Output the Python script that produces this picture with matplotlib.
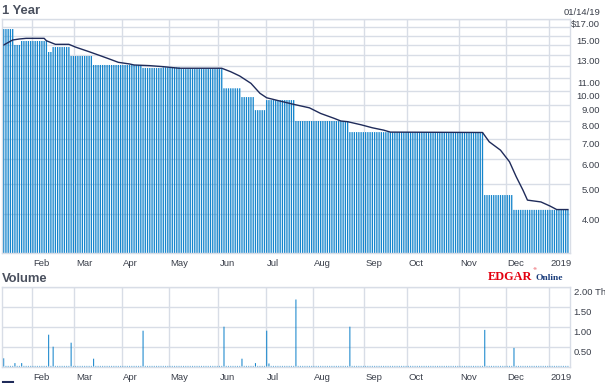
import matplotlib
matplotlib.use("Agg")
import matplotlib.pyplot as plt
import matplotlib.transforms as mtransforms
from matplotlib.lines import Line2D
from matplotlib.ticker import NullLocator, NullFormatter
import numpy as np
import pandas as pd

# trading calendar (NYSE closures in the window)
holidays = ["2018-01-15", "2018-02-19", "2018-03-30", "2018-05-28", "2018-07-04",
            "2018-09-03", "2018-11-22", "2018-12-05", "2018-12-25", "2019-01-01"]

# daily close, as runs: the close holds from each start date to the next one
price_run_start = ["2018-01-12", "2018-01-22", "2018-01-25", "2018-02-12", "2018-02-14",
                   "2018-02-27", "2018-03-13", "2018-04-13", "2018-04-26", "2018-05-08",
                   "2018-06-05", "2018-06-15", "2018-06-25", "2018-07-02", "2018-07-20",
                   "2018-08-23", "2018-11-16", "2018-12-07"]
price_run_value = [15.78, 14.02, 14.44, 13.31, 13.81,
                   12.92, 12.09, 11.82, 11.88, 11.73,
                   10.17, 9.53, 8.65, 9.32, 7.98,
                   7.35, 4.61, 4.13]

# moving average line
ma_dates = ["2018-01-12", "2018-01-19", "2018-01-24", "2018-01-29", "2018-02-08",
            "2018-02-09", "2018-02-15", "2018-02-26", "2018-03-01", "2018-03-09",
            "2018-03-16", "2018-03-22", "2018-03-28", "2018-04-05", "2018-04-09",
            "2018-04-18", "2018-04-26", "2018-05-07", "2018-06-04", "2018-06-08",
            "2018-06-14", "2018-06-21", "2018-06-27", "2018-07-02", "2018-07-11",
            "2018-07-19", "2018-07-30", "2018-08-06", "2018-08-14", "2018-08-17",
            "2018-08-22", "2018-08-30", "2018-09-07", "2018-09-14", "2018-09-19",
            "2018-11-15", "2018-11-20", "2018-11-28", "2018-12-04", "2018-12-10",
            "2018-12-13", "2018-12-17", "2018-12-26", "2019-01-02", "2019-01-07",
            "2019-01-14"]
ma_values = [14.02, 14.55, 14.66, 14.73, 14.73,
             14.47, 14.09, 14.09, 13.80, 13.34,
             12.95, 12.64, 12.33, 12.18, 12.09,
             12.03, 11.94, 11.80, 11.80, 11.50,
             11.14, 10.55, 9.80, 9.48, 9.25,
             9.03, 8.80, 8.44, 8.14, 7.98,
             7.94, 7.76, 7.59, 7.46, 7.35,
             7.33, 6.84, 6.43, 5.90, 5.28,
             4.78, 4.44, 4.38, 4.25, 4.14,
             4.14]

# volume (thousands of shares); every other day trades a tiny amount
vol_base = 0.02
vol_dates = ["2018-01-12", "2018-01-22", "2018-01-25", "2018-02-12", "2018-02-14",
             "2018-02-27", "2018-03-13", "2018-04-13", "2018-06-05", "2018-06-15",
             "2018-06-25", "2018-07-02", "2018-07-03", "2018-07-20", "2018-08-23",
             "2018-11-16", "2018-12-07"]
vol_values = [0.21, 0.09, 0.09, 0.80, 0.50,
              0.60, 0.20, 0.90, 1.00, 0.20,
              0.09, 0.90, 0.08, 1.68, 1.00,
              0.92, 0.47]

price_ticks = [4, 5, 6, 7, 8, 9, 10, 11, 12, 13, 14, 15, 16, 17]
price_tick_labels = ["4.00", "5.00", "6.00", "7.00", "8.00", "9.00", "10.00", "11.00",
                     "", "13.00", "", "15.00", "", "$17.00"]
vol_ticks = [0.5, 1.0, 1.5, 2.0]
vol_tick_labels = ["0.50", "1.00", "1.50", "2.00 Th"]
month_labels = ["Feb", "Mar", "Apr", "May", "Jun", "Jul", "Aug", "Sep", "Oct", "Nov", "Dec", "2019"]

BAR = "#1585cc"
LINE = "#1f2b5a"
GRID = "#d8dde6"
TXT = "#3a3f4a"
FONT = "Liberation Sans"

days = pd.bdate_range("2018-01-12", "2019-01-14", freq="C", holidays=holidays)
n = len(days)
x = np.arange(n)

run_idx = days.get_indexer(pd.to_datetime(price_run_start))
close = np.array(price_run_value)[np.searchsorted(run_idx, x, side="right") - 1]
ma_idx = days.get_indexer(pd.to_datetime(ma_dates))
volume = np.full(n, vol_base)
volume[days.get_indexer(pd.to_datetime(vol_dates))] = vol_values

# month boundaries sit half a day before the first session of the month
first_of_month = np.where(days.month[1:] != days.month[:-1])[0] + 1
month_pos = first_of_month - 0.5

W, H = 605, 383
X0, X1 = 2, 569.5
XLIM = (-0.75, n - 0.3)
bar_w = 1.3 / ((X1 - X0) / (XLIM[1] - XLIM[0]))  # about 1.3 px in day units

fig = plt.figure(figsize=(W / 100, H / 100), dpi=100)


def px_axes(top, bottom):
    return fig.add_axes([X0 / W, 1 - bottom / H, (X1 - X0) / W, (bottom - top) / H])


def style_axes(ax):
    for sp in ax.spines.values():
        sp.set_color(GRID)
        sp.set_linewidth(1.0)
    ax.set_axisbelow(True)
    ax.grid(True, color=GRID, linewidth=1.0)
    ax.set_xticks(month_pos)
    ax.set_xticklabels(month_labels, ha="left")
    ax.tick_params(axis="x", length=0, pad=4.5, labelsize=6.8, labelcolor=TXT)
    ax.set_xlim(*XLIM)
    shift = mtransforms.ScaledTranslation(1.5 / 100, 0, fig.dpi_scale_trans)
    for lab in ax.get_xticklabels():
        lab.set_fontfamily(FONT)
        lab.set_transform(lab.get_transform() + shift)


# price panel: one thin stick per session
ax = px_axes(19, 253)
ax.set_yscale("log")
ax.bar(x, close - 1, bottom=1, width=bar_w, color=BAR, linewidth=0, snap=False)
ax.plot(ma_idx, ma_values, color=LINE, linewidth=1.0)
ax.set_ylim(3, 17)
ax.set_yticks(price_ticks)
ax.set_yticklabels(price_tick_labels)
ax.yaxis.set_minor_locator(NullLocator())
ax.yaxis.set_minor_formatter(NullFormatter())
ax.yaxis.tick_right()
ax.tick_params(axis="y", length=0, pad=22, labelsize=6.8, labelcolor=TXT)
style_axes(ax)
down = mtransforms.ScaledTranslation(0, -5 / 100, fig.dpi_scale_trans)
for lab in ax.get_yticklabels():
    lab.set_ha("right")
    lab.set_fontfamily(FONT)
    lab.set_transform(lab.get_transform() + down)

# volume panel
av = px_axes(286.7, 366.7)
av.bar(x, volume, width=bar_w * 0.8, color=BAR, linewidth=0, snap=False)
av.set_ylim(0, 2.0)
av.set_yticks(vol_ticks)
av.set_yticklabels(vol_tick_labels)
av.yaxis.tick_right()
av.tick_params(axis="y", length=0, pad=3, labelsize=6.8, labelcolor=TXT)
style_axes(av)
for lab in av.get_yticklabels():
    lab.set_fontfamily(FONT)
    lab.set_transform(lab.get_transform() + down)

# titles and branding
fig.text(2 / W, 1 - 13.5 / H, "1 Year", family=FONT, fontweight="bold", fontsize=9.4,
         color="#4a505e", va="baseline")
fig.text(2 / W, 1 - 281.5 / H, "Volume", family=FONT, fontweight="bold", fontsize=9.4,
         color="#4a505e", va="baseline")
fig.text(600 / W, 1 - 15 / H, "01/14/19", family=FONT, fontsize=6.8, color=TXT,
         ha="right", va="baseline")
fig.text(488 / W, 1 - 280 / H, "EDGAR", family="Liberation Serif", fontweight="bold",
         fontsize=8.8, color="#e3000f", va="baseline")
fig.text(532 / W, 1 - 270 / H, "®", family="DejaVu Sans", fontsize=3.2, color="#e3000f",
         va="baseline")
fig.text(536 / W, 1 - 280 / H, "Online", family="Liberation Serif", fontweight="bold",
         fontsize=6.8, color="#1b3d7c", va="baseline")
fig.add_artist(Line2D([3 / W, 13 / W], [0.8 / H, 0.8 / H], color=LINE, linewidth=1.5))

fig.savefig("out.png", dpi=100)
